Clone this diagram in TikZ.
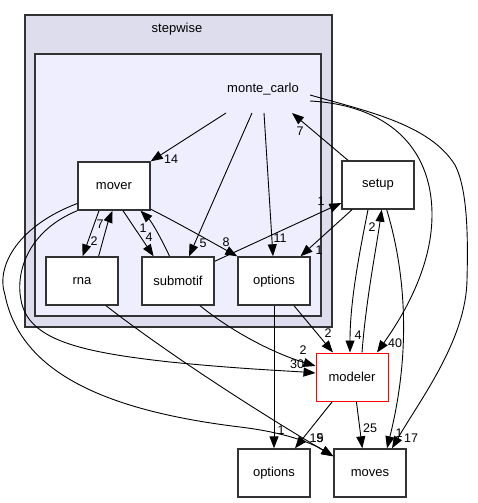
\documentclass[tikz,border=0pt]{standalone}
\usepackage{fontspec}
\setmainfont{Liberation Sans}
\usetikzlibrary{arrows.meta,calc}
\definecolor{outerfill}{HTML}{DDDDEE}
\definecolor{innerfill}{HTML}{EEEEFF}
\definecolor{boxline}{HTML}{333333}
\begin{document}
\begin{tikzpicture}[x=1pt,y=-1pt,
  box/.style={draw=boxline, line width=1.4pt, fill=white, minimum width=72pt, minimum height=48pt, inner sep=0pt, font=\fontsize{13}{15}\selectfont},
  edge/.style={draw=black, line width=0.9pt, -{Triangle[length=12pt,width=9pt]}},
  elab/.style={inner sep=0pt, font=\fontsize{12.5}{14}\selectfont},
  clab/.style={inner sep=0pt, font=\fontsize{13}{15}\selectfont},
  cluster/.style={draw=boxline, line width=1.4pt}]
\useasboundingbox (0,0) rectangle (477,503);
% clusters
\draw[cluster, fill=outerfill] (25,15) rectangle (332,327);
\draw[cluster, fill=innerfill] (35,54) rectangle (321,316);
\node[clab] (stepwise) at (177,29) {stepwise};
\node[clab] (mc) at (263,89) {monte\_carlo};
% nodes
\node[box] (mover) at (114,186) {mover};
\node[box] (rna) at (82,281) {rna};
\node[box] (sub) at (178,281) {submotif};
\node[box] (opt) at (274,281) {options};
\node[box] (setup) at (378,185) {setup};
\node[box, draw=red, line width=1pt] (mod) at (352,377) {modeler};
\node[box] (opt2) at (274,473) {options};
\node[box] (moves) at (370,473) {moves};
% edges
\draw[edge] ($(mc)+(-37,24)$) -- (mover.north east);
\draw[edge] ($(mc)+(-11,24)$) -- ($(sub.north)+(11,0)$);
\draw[edge] ($(mc)+(1,24)$) -- ($(opt.north)+(-1,0)$);
\draw[edge] ($(setup.north)+(-30,0)$) -- ($(mc)+(29,24)$);
\draw[edge] ($(mc)+(47,12)$) .. controls (385,105) and (432,145) .. (432,215) .. controls (432,270) and (400,320) .. ($(mod.north)+(25,0)$);
\draw[edge] ($(mc)+(47,6)$) .. controls (370,112) and (430,125) .. (455,165) .. controls (468,190) and (468,240) .. (467,280) .. controls (466,340) and (420,400) .. ($(moves.north)+(22,0)$);
\draw[edge] ($(mover.south)+(-15,0)$) -- ($(rna.north)+(0.6,0)$);
\draw[edge] ($(rna.north)+(16.6,0)$) .. controls (103,240) and (108,222) .. ($(mover.south)+(-1.5,0)$);
\draw[edge] ($(mover.south)+(9,0)$) -- ($(sub.north)+(-24.4,0)$);
\draw[edge] ($(sub.north)+(-8.4,0)$) .. controls (162,240) and (152,222) .. ($(mover.south)+(26.5,0)$);
\draw[edge] ($(mover.south east)+(0,-1.5)$) .. controls (180,224) and (215,244) .. (opt.north west);
\draw[edge] ($(sub.north east)+(0,5)$) -- ($(setup.west)+(0,18)$);
\draw[edge] ($(setup.south)+(-26,0)$) -- ($(opt.north)+(26.5,0)$);
\draw[edge] ($(setup.south)+(-10,0)$) .. controls (360,250) and (350,300) .. ($(mod.north)+(-2,0)$);
\draw[edge] ($(mod.north)+(10,0)$) .. controls (366,300) and (376,250) .. ($(setup.south)+(3.7,0)$);
\draw[edge] ($(setup.south)+(8.7,0)$) .. controls (402,260) and (414,340) .. ($(moves.north)+(17,0)$);
\draw[edge] (opt.south) -- (opt2.north);
\draw[edge] ($(opt.south)+(20,0)$) -- ($(mod.north)+(-19,0)$);
\draw[edge] ($(sub.south)+(22,0)$) .. controls (230,330) and (270,352) .. ($(mod.west)+(0,-11)$);
\draw[edge] (mover.south west) .. controls (30,230) and (15,270) .. (21,300) .. controls (28,340) and (80,352) .. (170,362) .. controls (240,369) and (290,371) .. ($(mod.west)+(0,-4)$);
\draw[edge] ($(mover.west)+(0,17.5)$) .. controls (20,225) and (-5,265) .. (5,295) .. controls (20,370) and (100,410) .. (240,427) .. controls (290,433) and (315,445) .. ($(moves.north west)+(0,8)$);
\draw[edge] ($(rna.south)+(24,0)$) .. controls (150,340) and (230,395) .. ($(moves.north west)+(0,8)$);
\draw[edge] ($(mod.south)+(-19.6,0)$) -- ($(opt2.north)+(21,0)$);
\draw[edge] ($(mod.south)+(4.4,0)$) -- ($(moves.north)+(-7.7,0)$);
% edge labels
\node[elab] (l14) at (171,159) {14};
\node[elab] (l5a) at (203,243) {5};
\node[elab] (l11) at (280,238) {11};
\node[elab] (l7a) at (300,131) {7};
\node[elab] (l40) at (395,343) {40};
\node[elab] (l17) at (411,438) {17};
\node[elab] (l2a) at (94,241) {2};
\node[elab] (l7b) at (100,224) {7};
\node[elab] (l4a) at (149,237) {4};
\node[elab] (l1a) at (143,228) {1};
\node[elab] (l8) at (226,242) {8};
\node[elab] (l1b) at (321,201) {1};
\node[elab] (l1c) at (319,250) {1};
\node[elab] (l4b) at (358,335) {4};
\node[elab] (l2b) at (372,227) {2};
\node[elab] (l1d) at (399,433) {1};
\node[elab] (l1e) at (281,430) {1};
\node[elab] (l2c) at (328,333) {2};
\node[elab] (l2d) at (303,350.5) {2};
\node[elab] (l30) at (297,364) {30};
\node[elab] (l19) at (316.5,438) {19};
\node[elab] (l5b) at (320,438) {5};
\node[elab] (l25) at (370,428) {25};
\end{tikzpicture}
\end{document}
